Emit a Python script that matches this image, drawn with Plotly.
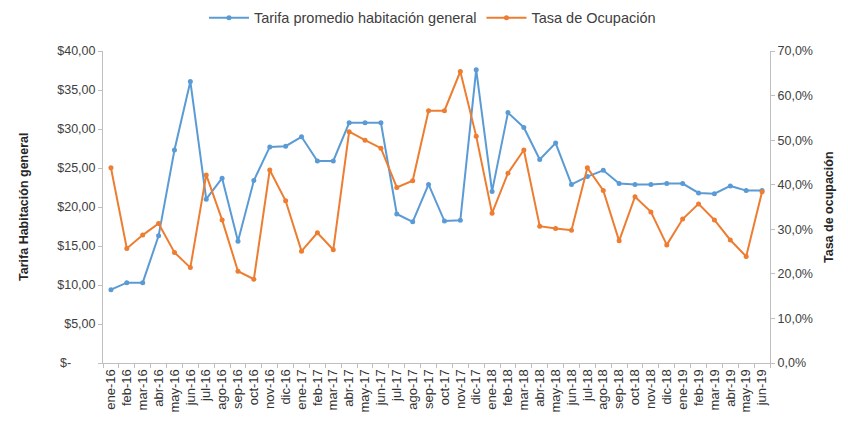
import plotly.graph_objects as go

months = ["ene","feb","mar","abr","may","jun","jul","ago","sep","oct","nov","dic"]
categories = [f"{m}-{y}" for y in ["16","17","18","19"] for m in months][:42]

tarifa = [9.4, 10.3, 10.3, 16.3, 27.3, 36.1, 21.0, 23.7, 15.6, 23.4, 27.7, 27.8,
          29.0, 25.9, 25.9, 30.8, 30.8, 30.8, 19.1, 18.1, 22.9, 18.2, 18.3, 37.6,
          22.0, 32.1, 30.2, 26.1, 28.2, 22.9, 23.9, 24.7, 23.0, 22.9, 22.9, 23.0,
          23.0, 21.8, 21.7, 22.7, 22.1, 22.1]

ocupacion = [43.8, 25.7, 28.7, 31.3, 24.8, 21.4, 42.2, 32.1, 20.6, 18.8, 43.3, 36.4,
             25.1, 29.2, 25.4, 51.9, 50.0, 48.2, 39.4, 40.9, 56.6, 56.6, 65.4, 50.9,
             33.6, 42.6, 47.8, 30.7, 30.2, 29.8, 43.8, 38.7, 27.4, 37.3, 33.9, 26.5,
             32.3, 35.7, 32.1, 27.6, 23.9, 38.4]

left_ticks = [0, 5, 10, 15, 20, 25, 30, 35, 40]
left_text = ["$-" + "\u00a0" * 7] + [f"${v},00" for v in left_ticks[1:]]
right_ticks = [0, 10, 20, 30, 40, 50, 60, 70]
right_text = [f"{v},0%" for v in right_ticks]

BLUE = "#5B9BD5"
ORANGE = "#ED7D31"
FONT = "Liberation Sans Narrow, Arial Narrow, Liberation Sans, sans-serif"

fig = go.Figure()
fig.add_trace(go.Scatter(x=categories, y=tarifa, name="Tarifa promedio habitación general",
                         mode="lines+markers", line=dict(color=BLUE, width=2),
                         marker=dict(color=BLUE, size=5, symbol="circle")))
fig.add_trace(go.Scatter(x=categories, y=ocupacion, name="Tasa de Ocupación", yaxis="y2",
                         mode="lines+markers", line=dict(color=ORANGE, width=2),
                         marker=dict(color=ORANGE, size=5, symbol="circle")))

axis_col = "#BFBFBF"
fig.update_layout(
    width=848, height=426,
    margin=dict(l=103, r=78, t=51, b=63),
    paper_bgcolor="white", plot_bgcolor="white",
    font=dict(family=FONT, size=11, color="#404040"),
    legend=dict(orientation="h", x=0.51, xanchor="center", xref="container",
                y=0.958, yanchor="middle", yref="container",
                font=dict(size=14.5, color="#404040"), itemwidth=40),
    xaxis=dict(type="category", tickangle=-90, showgrid=False, showline=True,
               linecolor=axis_col, ticks="outside", tickcolor=axis_col, ticklen=4,
               tickson="boundaries", range=[-0.5, 41.5], automargin=False,
               tickmode="array", tickvals=categories, ticktext=categories,
               tickfont=dict(size=13, color="#333333")),
    yaxis=dict(range=[0, 40], tickvals=left_ticks, ticktext=left_text, showgrid=False,
               showline=True, linecolor=axis_col, ticks="outside", tickcolor=axis_col,
               ticklen=4, zeroline=False, automargin=False,
               tickfont=dict(size=12.5, color="#404040")),
    yaxis2=dict(range=[0, 70], tickvals=right_ticks, ticktext=right_text, overlaying="y",
                side="right", showgrid=False, showline=True, linecolor=axis_col,
                ticks="outside", tickcolor=axis_col, ticklen=4, zeroline=False,
                automargin=False, tickfont=dict(size=12.5, color="#404040")),
    annotations=[
        dict(text="<b>Tarifa Habitación general</b>", xref="paper", yref="paper",
             x=-0.132, y=0.5, textangle=-90, showarrow=False,
             font=dict(size=12.5, color="#262626")),
        dict(text="<b>Tasa de ocupación</b>", xref="paper", yref="paper",
             x=1.102, y=0.5, textangle=-90, showarrow=False,
             font=dict(size=12.5, color="#262626")),
    ],
)

fig.write_html("out.html", config={"displayModeBar": False},
               post_script="document.body.style.margin='0';")
